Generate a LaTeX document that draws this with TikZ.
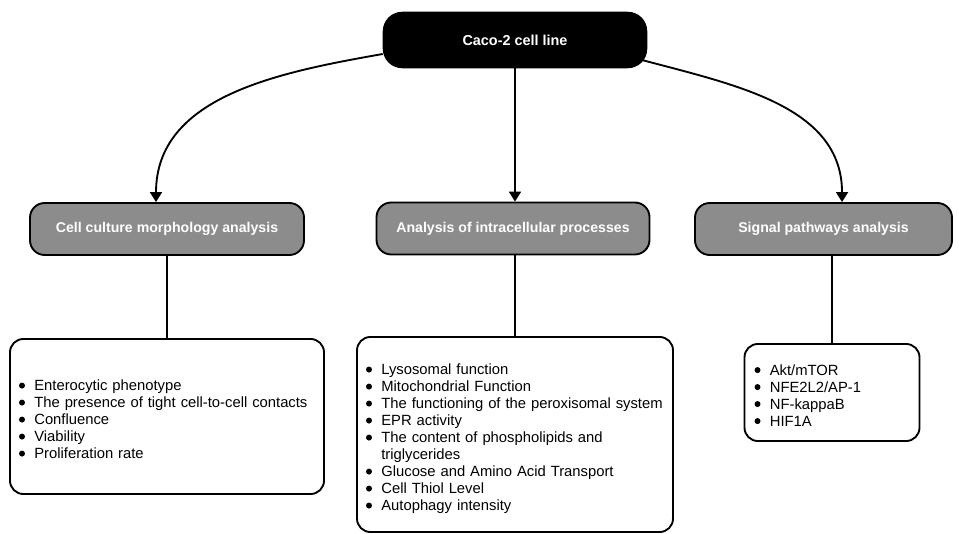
\documentclass[tikz,border=0pt]{standalone}
\usepackage{fontspec}
\setmainfont{Liberation Sans}
\usetikzlibrary{arrows.meta}
\definecolor{cGray}{RGB}{140,140,140}

\tikzset{
  topbox/.style={draw=black, fill=black, text=white, line width=1.4pt,
    rounded corners=14pt, minimum width=197pt, minimum height=41pt,
    font=\bfseries\fontsize{10.8}{12}\selectfont},
  groupbox/.style={draw=black, fill=cGray, text=white, line width=1.4pt,
    rounded corners=11pt, minimum height=39pt,
    font=\bfseries\fontsize{10.6}{12}\selectfont},
  listbox/.style={draw=black, line width=1.4pt, rounded corners=10pt,
    align=left, inner xsep=6.75pt, font=\fontsize{11.1}{12.75}\selectfont},
  arrowline/.style={line width=1.4pt, -{Triangle[length=7.5pt,width=9pt]}},
  plainline/.style={line width=1.4pt}
}

\newcommand{\dotmark}{\tikz[baseline=-0.36em]\fill (0,0) circle (2.25pt);}
\newenvironment{itemtab}{\vspace*{-7.5pt}\begin{tabular}{@{}l@{\hspace{7pt}}l@{}}}{\end{tabular}}

\begin{document}
\begin{tikzpicture}[x=0.75pt, y=-0.75pt]
        \useasboundingbox (0,0) rectangle (959,534);

        % top node
        \node[topbox] (caco) at (515, 40) {Caco-2 cell line};

        % analysis groups
        \node[groupbox, minimum width=205.5pt] (morph) at (167, 229) {Cell culture morphology analysis};
        \node[groupbox, minimum width=204.75pt] (intra) at (513, 228.5) {Analysis of intracellular processes};
        \node[groupbox, minimum width=192.75pt] (signal) at (823.5, 229) {Signal pathways analysis};

        % item lists
        \node[listbox, text width=222pt, minimum height=116.25pt] (morphitems) at (167, 416.5) {%
          \begin{itemtab}
            \dotmark & Enterocytic phenotype\\
            \dotmark & The presence of tight cell-to-cell contacts\\
            \dotmark & Confluence\\
            \dotmark & Viability\\
            \dotmark & Proliferation rate
          \end{itemtab}};
        \node[listbox, text width=223.5pt, minimum height=146.25pt] (intraitems) at (515, 434.5) {%
          \begin{itemtab}
            \dotmark & Lysosomal function\\
            \dotmark & Mitochondrial Function\\
            \dotmark & The functioning of the peroxisomal system\\
            \dotmark & EPR activity\\
            \dotmark & The content of phospholipids and\\
                     & triglycerides\\
            \dotmark & Glucose and Amino Acid Transport\\
            \dotmark & Cell Thiol Level\\
            \dotmark & Autophagy intensity
          \end{itemtab}};
        \node[listbox, inner xsep=7.5pt, text width=116.25pt, minimum height=72.75pt] (signalitems) at (832, 392.5) {%
          \begin{itemtab}
            \dotmark & Akt/mTOR\\
            \dotmark & NFE2L2/AP-1\\
            \dotmark & NF-kappaB\\
            \dotmark & HIF1A
          \end{itemtab}};

        % arrows from the top node
        \draw[arrowline] ([yshift=-10.5pt]caco.west) to[out=190, in=90] ([xshift=-8.25pt]morph.north);
        \draw[arrowline] (caco.south) -- (caco.south |- intra.north);
        \draw[arrowline] ([xshift=-4pt, yshift=-15pt]caco.east) to[out=-15, in=90] ([xshift=13.9pt]signal.north);

        % lines down to the lists
        \draw[plainline] (morph.south) -- (morphitems.north);
        \draw[plainline] (intra.south -| intraitems.north) -- (intraitems.north);
        \draw[plainline] (signal.south -| signalitems.north) -- (signalitems.north);
\end{tikzpicture}
\end{document}
